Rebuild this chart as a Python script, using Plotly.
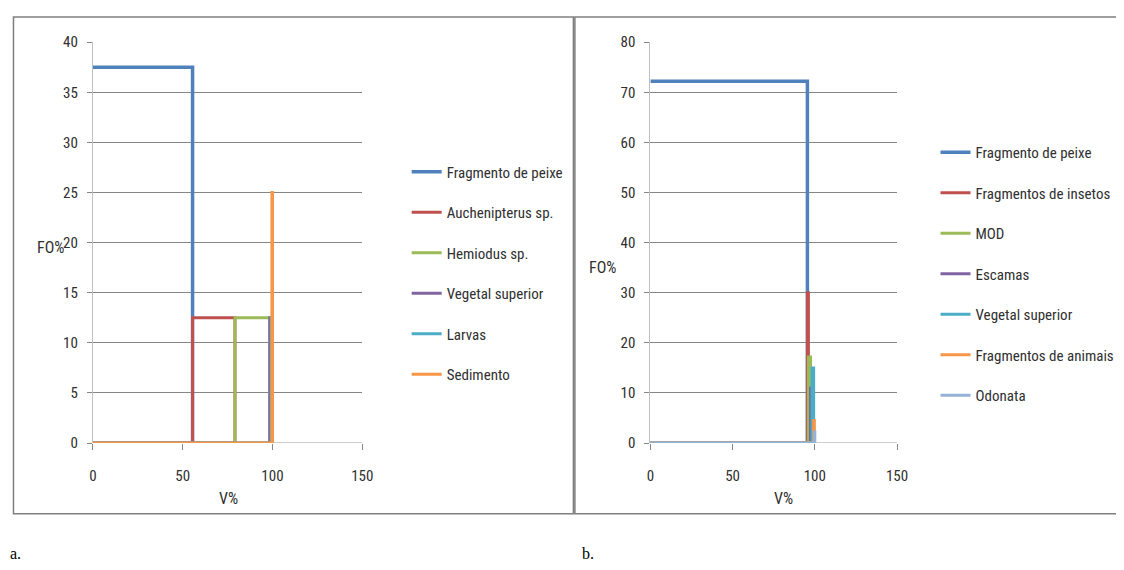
import plotly.graph_objects as go

# ---------------- data ----------------
items_a = ["Fragmento de peixe", "Auchenipterus sp.", "Hemiodus sp.",
           "Vegetal superior", "Larvas", "Sedimento"]
v_a = [55.5, 23.6, 19.4, 0.8, 0.4, 0.3]          # V% (volume)
fo_a = [37.5, 12.5, 12.5, 12.5, 12.5, 25.0]      # FO% (frequency)

items_b = ["Fragmento de peixe", "Fragmentos de insetos", "MOD", "Escamas",
           "Vegetal superior", "Fragmentos de animais", "Odonata"]
v_b = [95.5, 0.6, 1.3, 0.9, 1.0, 0.4, 0.3]
fo_b = [72.2, 30.0, 17.2, 11.0, 15.0, 4.5, 2.2]

x_ticks = [0, 50, 100, 150]
y_ticks_a = [0, 5, 10, 15, 20, 25, 30, 35, 40]
y_ticks_b = [0, 10, 20, 30, 40, 50, 60, 70, 80]

colors_a = ["#4F81BD", "#C0504D", "#9BBB59", "#8064A2", "#4BACC6", "#F79646"]
colors_b = ["#4F81BD", "#C0504D", "#9BBB59", "#8064A2", "#4BACC6", "#F79646", "#95B3D7"]

W, H = 1124, 570
OFF = 8  # default page body margin
FONT = "Liberation Sans Narrow, Arial Narrow, Roboto Condensed, sans-serif"
GRID = "#868686"


def px(x):
    return (x - OFF) / W


def py(y):
    return 1 - (y - OFF) / H


fig = go.Figure()


def add_panel(items, v, fo, colors, xa, ya, legend):
    start = 0.0
    for i, (name, vi, fi) in enumerate(zip(items, v, fo)):
        end = start + vi
        if start > 0:
            xs = [0, start, start, end, end]
            ys = [0, 0, fi, fi, 0]
        else:
            xs = [start, end, end]
            ys = [fi, fi, 0]
        fig.add_trace(go.Scatter(
            x=xs, y=ys, mode="lines", name=name,
            line=dict(color=colors[i], width=3.5 if i == 0 else 3),
            xaxis=xa, yaxis=ya, legend=legend, legendgroup=legend + str(i),
            hoverinfo="skip"))
        start = end


add_panel(items_a, v_a, fo_a, colors_a, "x", "y", "legend")
add_panel(items_b, v_b, fo_b, colors_b, "x2", "y2", "legend2")

axis_font = dict(family=FONT, size=15, color="#303030")

xcommon = dict(range=[0, 150], tickvals=x_ticks, showgrid=False, zeroline=False,
               showline=False, ticks="outside", ticklen=6, tickcolor=GRID,
               tickfont=axis_font, ticklabelstandoff=13, fixedrange=True)
ycommon = dict(showgrid=True, gridcolor=GRID, gridwidth=1, zeroline=False,
               showline=True, linecolor="#BFBFBF", linewidth=1,
               ticks="outside", ticklen=5, tickcolor=GRID,
               tickfont=axis_font, ticklabelstandoff=6, fixedrange=True)

ydom = [py(448), py(34)]
fig.update_layout(
    width=W, height=H,
    margin=dict(l=0, r=0, t=0, b=0),
    paper_bgcolor="white", plot_bgcolor="white",
    showlegend=True,
    xaxis=dict(domain=[px(90), px(363)], anchor="y", **xcommon),
    yaxis=dict(domain=ydom, anchor="x", range=[0, 40], tickvals=y_ticks_a, **ycommon),
    xaxis2=dict(domain=[px(655), px(905)], anchor="y2", **xcommon),
    yaxis2=dict(domain=ydom, anchor="x2", range=[0, 80], tickvals=y_ticks_b, **ycommon),
    legend=dict(x=px(408), y=py(151), xanchor="left", yanchor="top",
                font=dict(family=FONT, size=15, color="#303030"),
                tracegroupgap=18, bgcolor="rgba(0,0,0,0)", itemwidth=30),
    legend2=dict(x=px(944), y=py(131), xanchor="left", yanchor="top",
                 font=dict(family=FONT, size=15, color="#303030"),
                 tracegroupgap=18, bgcolor="rgba(0,0,0,0)", itemwidth=30),
)

# x-axis baseline (grey, under the series)
for xr, yr in (("x", "y"), ("x2", "y2")):
    fig.add_shape(type="line", xref=xr, yref=yr, x0=0, x1=150, y0=0, y1=0,
                  line=dict(color=GRID, width=1), layer="below")

# chart frames
fig.add_shape(type="rect", xref="paper", yref="paper",
              x0=px(9.5), x1=px(577), y0=py(521), y1=py(8),
              line=dict(color="#7F7F7F", width=1.5))
fig.add_shape(type="rect", xref="paper", yref="paper",
              x0=px(578.5), x1=px(1140), y0=py(521), y1=py(8),
              line=dict(color="#7F7F7F", width=1.5))

title_font = dict(family=FONT, size=16, color="#303030")
annots = [
    ("FO%", 47, 246), ("V%", 227, 505),
    ("FO%", 606, 267), ("V%", 790, 505),
]
for t, x, y in annots:
    fig.add_annotation(text=t, x=px(x), y=py(y), xref="paper", yref="paper",
                       showarrow=False, font=title_font, xanchor="center", yanchor="middle")

cap_font = dict(family="Liberation Serif, Times New Roman, serif", size=16, color="black")
fig.add_annotation(text="a.", x=px(4), y=py(562), xref="paper", yref="paper",
                   showarrow=False, font=cap_font, xanchor="left", yanchor="middle")
fig.add_annotation(text="b.", x=px(584), y=py(562), xref="paper", yref="paper",
                   showarrow=False, font=cap_font, xanchor="left", yanchor="middle")

fig.write_html("out.html", config={"displayModeBar": False})
